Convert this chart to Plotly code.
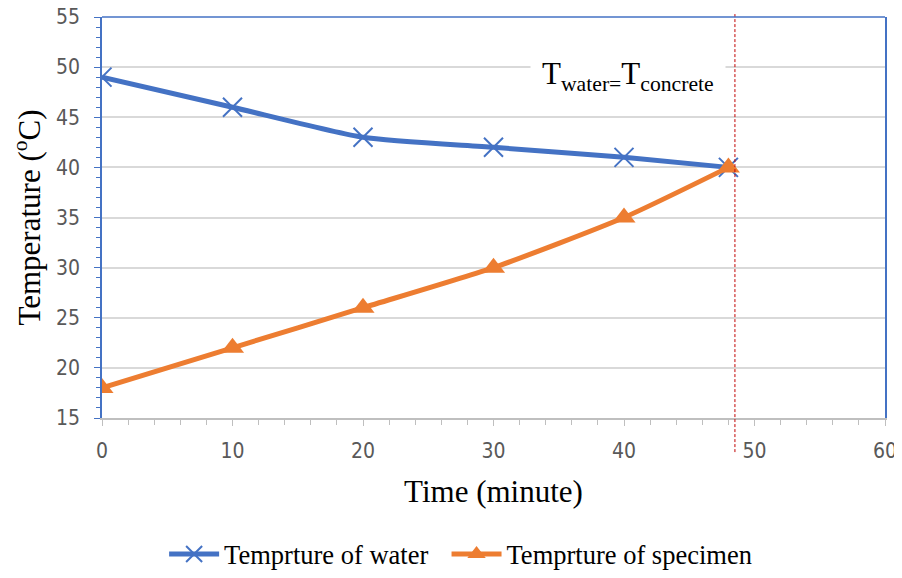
import plotly.graph_objects as go

# data
time_min = [0, 10, 20, 30, 40, 48]
water_temp = [49, 46, 43, 42, 41, 40]
specimen_temp = [18, 22, 26, 30, 35, 40]
equal_time = 48.5

serif = "Liberation Serif, Times New Roman, serif"
tickfont = "Liberation Sans Narrow, DejaVu Sans Condensed, Open Sans, sans-serif"
blue = "#4472C4"
orange = "#ED7D31"

fig = go.Figure()
fig.add_trace(go.Scatter(
    x=time_min, y=water_temp, name="Temprture of water\u00a0\u00a0",
    mode="lines+markers", line=dict(color=blue, width=5, shape="spline", smoothing=0.6),
    marker=dict(symbol="x-thin", size=19, line=dict(color=blue, width=2))))
fig.add_trace(go.Scatter(
    x=time_min, y=specimen_temp, name="Temprture of specimen",
    mode="lines+markers", line=dict(color=orange, width=5, shape="spline", smoothing=0.6),
    marker=dict(symbol="triangle-up", size=20, color=orange)))

# vertical line where the two temperatures meet
fig.add_shape(type="line", xref="x", yref="paper", x0=equal_time, x1=equal_time,
              y0=-0.085, y1=1.012, line=dict(color="#C00000", width=1, dash="3px,2px"))
# top frame line
fig.add_shape(type="line", xref="paper", yref="paper", x0=0, x1=1, y0=1, y1=1,
              line=dict(color=blue, width=1.5))

fig.add_annotation(x=40.3, y=49.1, xref="x", yref="y", showarrow=False,
                   text="T<sub>water=</sub>T<sub>concrete</sub>",
                   font=dict(family=serif, size=31, color="black"),
                   bgcolor="white", borderpad=11)

fig.update_xaxes(range=[0, 60], dtick=10, showgrid=False, zeroline=False, automargin=False,
                 showline=True, linecolor="#BFBFBF", linewidth=1.5,
                 ticks="outside", ticklen=6, tickcolor="#BFBFBF",
                 minor=dict(dtick=2, ticks="outside", ticklen=5, tickcolor="#BFBFBF"),
                 ticklabelstandoff=7, ticklabeloverflow="allow",
                 tickfont=dict(family=tickfont, size=21, color="#595959"),
                 title=dict(text="Time (minute)", font=dict(family=serif, size=31, color="black"),
                            standoff=18))
fig.update_yaxes(range=[15, 55], dtick=5, showgrid=True, gridcolor="#D9D9D9", gridwidth=1.5,
                 zeroline=False, automargin=False,
                 showline=True, mirror=True, linecolor=blue, linewidth=1.5,
                 ticks="outside", ticklen=6, tickcolor=blue,
                 minor=dict(dtick=1, ticks="outside", ticklen=4, tickcolor=blue, showgrid=False),
                 ticklabelstandoff=10, ticklabeloverflow="allow",
                 tickfont=dict(family=tickfont, size=21, color="#595959"),
                 title=dict(text="Temperature (<sup>o</sup>C)",
                            font=dict(family=serif, size=31, color="black"), standoff=14))

# the page body adds an 8px margin, so the figure is kept smaller than the window
fig.update_layout(
    width=894, height=562, plot_bgcolor="white", paper_bgcolor="white",
    margin=dict(l=94, r=17, t=9, b=152),
    legend=dict(orientation="h", x=0.458, xanchor="center", yref="container",
                y=0.028, yanchor="middle", itemwidth=50,
                font=dict(family=serif, size=26.5, color="black")),
)

fig.write_html("out.html")
